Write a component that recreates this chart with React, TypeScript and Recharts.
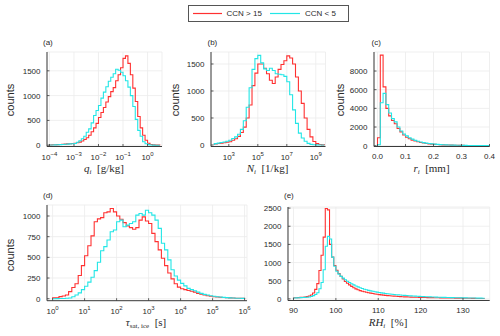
import { CartesianGrid, Line, LineChart, XAxis, YAxis } from "recharts";

const RED = "#ff3030";
const CYAN = "#22e6e6";
const AXIS = "#3a3a3a";
const TXT = "#2a2a2a";
const GRID = "#ebebeb";
const SANS = "Liberation Sans, Arial, sans-serif";
const SERIF = "Liberation Serif, Times New Roman, serif";

// (a) q_i, bins in log10(g/kg)
const qStart = -4;
const qWidth = 0.1;
const qRed = [5, 8, 10, 12, 15, 18, 22, 26, 30, 35, 40, 50, 62, 85, 115, 150, 200, 270, 350, 440, 560, 660, 760, 870, 980, 1080, 1160, 1300, 1420, 1560, 1750, 1800, 1650, 1420, 1150, 880, 580, 350, 200, 100, 40, 15, 6, 2, 1];
const qCyan = [3, 5, 7, 9, 12, 15, 18, 22, 27, 30, 35, 60, 90, 130, 180, 260, 330, 450, 600, 700, 800, 950, 1070, 1180, 1290, 1370, 1440, 1530, 1510, 1470, 1400, 1300, 1170, 1000, 780, 520, 300, 180, 70, 30, 12, 4, 1, 0, 0];

// (b) N_i, bins in log10(1/kg)
const nStart = 2;
const nWidth = 0.2;
const nRed = [20, 28, 35, 42, 50, 60, 88, 115, 160, 230, 330, 500, 740, 1100, 1330, 1500, 1500, 1420, 1320, 1200, 1140, 1260, 1400, 1490, 1560, 1650, 1610, 1500, 1260, 1000, 770, 500, 290, 150, 65, 25, 10, 3];
const nCyan = [25, 35, 45, 55, 70, 88, 120, 150, 200, 290, 450, 700, 1060, 1400, 1600, 1660, 1520, 1410, 1380, 1420, 1380, 1320, 1310, 1300, 1270, 1170, 930, 650, 400, 220, 130, 70, 30, 12, 5, 2, 0, 0];

// (c) r_i, bins in mm
const rStart = 0;
const rWidth = 0.01;
const rRed = [850, 9700, 6300, 4000, 3200, 2700, 2350, 1850, 1480, 1150, 900, 750, 600, 500, 420, 350, 290, 240, 200, 170, 145, 125, 105, 90, 78, 68, 58, 50, 44, 38, 33, 29, 25, 22, 19, 16, 14, 12, 10, 8];
const rCyan = [100, 4600, 5600, 4400, 3500, 2900, 2550, 2000, 1570, 1250, 1050, 850, 700, 570, 470, 390, 330, 275, 230, 195, 165, 140, 120, 102, 88, 76, 65, 56, 49, 43, 37, 32, 28, 24, 21, 18, 16, 14, 12, 10];

// (d) tau_sat,ice, bins in log10(s)
const tStart = 0;
const tWidth = 0.1;
const tRed = [10, 12, 25, 32, 45, 85, 135, 180, 280, 400, 520, 640, 760, 930, 965, 980, 1040, 1050, 1090, 1050, 1000, 960, 920, 880, 860, 840, 860, 950, 990, 940, 910, 790, 690, 590, 490, 400, 310, 240, 180, 140, 120, 110, 100, 90, 80, 65, 55, 45, 36, 30, 24, 20, 17, 15, 12, 10, 8, 6, 5, 4];
const tCyan = [0, 1, 2, 3, 5, 8, 24, 44, 70, 110, 150, 200, 260, 340, 440, 580, 630, 710, 810, 830, 930, 950, 870, 890, 910, 930, 1010, 1030, 1010, 1070, 1040, 1010, 950, 850, 670, 590, 470, 350, 275, 225, 185, 155, 125, 110, 97, 80, 64, 52, 44, 36, 30, 24, 20, 16, 13, 10, 8, 6, 5, 4];

// (e) RH_i, bins in %
const hStart = 90;
const hWidth = 0.5;
const hRed = [30, 32, 35, 40, 45, 52, 62, 78, 105, 160, 260, 420, 780, 1200, 1700, 2490, 2450, 1500, 1150, 920, 790, 700, 620, 550, 480, 430, 385, 345, 305, 275, 250, 228, 210, 195, 182, 170, 158, 146, 136, 126, 117, 109, 102, 96, 90, 84, 79, 75, 71, 66, 63, 60, 56, 54, 51, 49, 46, 45, 43, 41, 39, 38, 36, 35, 34, 33, 31, 30, 29, 28, 27, 26, 25, 24, 23, 22, 21, 21, 20, 19, 18, 17, 16, 15, 14, 13, 12, 11, 10, 9];
const hCyan = [25, 28, 30, 33, 36, 40, 45, 52, 65, 90, 120, 170, 280, 450, 800, 1450, 1720, 1650, 1150, 900, 760, 680, 620, 570, 525, 485, 450, 415, 385, 355, 330, 305, 285, 265, 250, 235, 220, 208, 196, 185, 175, 165, 157, 149, 141, 134, 127, 121, 115, 110, 105, 100, 95, 91, 87, 83, 79, 76, 72, 69, 66, 63, 60, 57, 55, 52, 50, 48, 46, 44, 42, 40, 38, 36, 35, 33, 32, 30, 29, 28, 27, 26, 25, 24, 23, 22, 21, 20, 19, 18];

function histRows(start: number, width: number, red: number[], cyan: number[]) {
  const rows = [{ x: start, red: 0, cyan: 0 }];
  red.forEach((v, i) => rows.push({ x: start + i * width, red: v, cyan: cyan[i] }));
  rows.push({ x: start + red.length * width, red: 0, cyan: 0 });
  return rows;
}

const PAD_L = 44;
const PAD_T = 4;
const PAD_R = 6;
const PAD_B = 24;

function XTick(props: any) {
  const { x, y, payload, kind } = props;
  const v = payload.value;
  let label: any;
  if (kind === "log") {
    label = (
      <text x={x} y={y + 13} textAnchor="middle" fontFamily={SANS} fontSize={8} fill={TXT}>
        10
        <tspan dy={-4} fontSize={6}>{v < 0 ? "\u2212" + -v : v}</tspan>
      </text>
    );
  } else {
    label = (
      <text x={x} y={y + 12.5} textAnchor="middle" fontFamily={SANS} fontSize={8} fill={TXT}>
        {kind === "fixed" ? v.toFixed(1) : v}
      </text>
    );
  }
  return (
    <g>
      <line x1={x} x2={x} y1={y} y2={y - 2.5} stroke={AXIS} strokeWidth={0.8} />
      {label}
    </g>
  );
}

function YTick(props: any) {
  const { x, y, payload } = props;
  return (
    <g>
      <line x1={x} x2={x + 2.5} y1={y} y2={y} stroke={AXIS} strokeWidth={0.8} />
      <text x={x - 6.5} y={y + 3} textAnchor="end" fontFamily={SANS} fontSize={8} fill={TXT}>
        {payload.value}
      </text>
    </g>
  );
}

interface PanelProps {
  rect: [number, number, number, number];
  rows: { x: number; red: number; cyan: number }[];
  xDomain: [number, number];
  xTicks: number[];
  kind: "log" | "fixed" | "plain";
  yDomain: [number, number];
  yTicks: number[];
}

function Panel({ rect, rows, xDomain, xTicks, kind, yDomain, yTicks }: PanelProps) {
  const [l, t, r, b] = rect;
  return (
    <div style={{ position: "absolute", left: l - PAD_L, top: t - PAD_T }}>
      <LineChart
        width={r - l + PAD_L + PAD_R}
        height={b - t + PAD_T + PAD_B}
        data={rows}
        margin={{ top: PAD_T, right: PAD_R, bottom: 0, left: 0 }}
      >
        <CartesianGrid stroke={GRID} strokeWidth={0.8} />
        <XAxis
          type="number"
          dataKey="x"
          domain={xDomain}
          ticks={xTicks}
          interval={0}
          allowDataOverflow
          height={PAD_B}
          tickSize={0}
          tickMargin={0}
          tickLine={false}
          axisLine={{ stroke: AXIS, strokeWidth: 1 }}
          tick={(p: any) => <XTick {...p} kind={kind} />}
        />
        <YAxis
          type="number"
          domain={yDomain}
          ticks={yTicks}
          interval={0}
          allowDataOverflow
          width={PAD_L}
          tickSize={0}
          tickMargin={0}
          tickLine={false}
          axisLine={{ stroke: AXIS, strokeWidth: 1 }}
          tick={(p: any) => <YTick {...p} />}
        />
        <Line type="stepAfter" dataKey="red" stroke={RED} strokeWidth={1.1} dot={false} isAnimationActive={false} />
        <Line type="stepAfter" dataKey="cyan" stroke={CYAN} strokeWidth={1.1} dot={false} isAnimationActive={false} />
      </LineChart>
    </div>
  );
}

function Counts({ x, y }: { x: number; y: number }) {
  return (
    <text
      x={x}
      y={y}
      transform={`rotate(-90, ${x}, ${y})`}
      textAnchor="middle"
      dominantBaseline="central"
      fontFamily={SANS}
      fontSize={11}
      fill={TXT}
    >
      counts
    </text>
  );
}

function Tag({ x, y, s }: { x: number; y: number; s: string }) {
  return (
    <text x={x} y={y} fontFamily={SANS} fontSize={8} fill={TXT}>
      {s}
    </text>
  );
}

export default function App() {
  const nb = "\u00a0";
  return (
    <div style={{ position: "absolute", left: 0, top: 0, width: 500, height: 336, background: "#fff" }}>
      <Panel
        rect={[46.5, 52, 161.5, 146.5]}
        rows={histRows(qStart, qWidth, qRed, qCyan)}
        xDomain={[-4.1, 0.59]}
        xTicks={[-4, -3, -2, -1, 0]}
        kind="log"
        yDomain={[-26, 1879]}
        yTicks={[0, 500, 1000, 1500]}
      />
      <Panel
        rect={[210.5, 52, 325, 146.5]}
        rows={histRows(nStart, nWidth, nRed, nCyan)}
        xDomain={[1.77, 9.67]}
        xTicks={[3, 5, 7, 9]}
        kind="log"
        yDomain={[-28, 1722]}
        yTicks={[0, 500, 1000, 1500]}
      />
      <Panel
        rect={[374, 52, 489.5, 146.5]}
        rows={histRows(rStart, rWidth, rRed, rCyan)}
        xDomain={[-0.0125, 0.4]}
        xTicks={[0, 0.1, 0.2, 0.3, 0.4]}
        kind="fixed"
        yDomain={[-86, 10037]}
        yTicks={[0, 2000, 4000, 6000, 8000]}
      />
      <Panel
        rect={[46.7, 205, 246.7, 300.7]}
        rows={histRows(tStart, tWidth, tRed, tCyan)}
        xDomain={[-0.175, 6.075]}
        xTicks={[0, 1, 2, 3, 4, 5, 6]}
        kind="log"
        yDomain={[-24, 1133]}
        yTicks={[0, 250, 500, 750, 1000]}
      />
      <Panel
        rect={[288.3, 207, 490, 300.5]}
        rows={histRows(hStart, hWidth, hRed, hCyan)}
        xDomain={[88.7, 136.3]}
        xTicks={[90, 100, 110, 120, 130]}
        kind="plain"
        yDomain={[-45, 2530]}
        yTicks={[0, 500, 1000, 1500, 2000, 2500]}
      />
      <svg
        width={500}
        height={336}
        style={{ position: "absolute", left: 0, top: 0, pointerEvents: "none" }}
      >
        <rect x={188.5} y={5.5} width={160} height={16} fill="#fff" stroke="#555" strokeWidth={1} />
        <line x1={193} x2={222} y1={13.5} y2={13.5} stroke={RED} strokeWidth={1.2} />
        <text x={226.5} y={16.3} fontFamily={SANS} fontSize={8} fill={TXT}>CCN &gt; 15</text>
        <line x1={270} x2={300} y1={13.5} y2={13.5} stroke={CYAN} strokeWidth={1.2} />
        <text x={305} y={16.3} fontFamily={SANS} fontSize={8} fill={TXT}>CCN &lt; 5</text>

        <Tag x={43} y={44.5} s="(a)" />
        <Tag x={207.5} y={44.5} s="(b)" />
        <Tag x={371.5} y={44.5} s="(c)" />
        <Tag x={43} y={198} s="(d)" />
        <Tag x={284} y={198} s="(e)" />

        <Counts x={10} y={100} />
        <Counts x={175} y={100} />
        <Counts x={340} y={100} />
        <Counts x={10} y={255} />

        <text x={104} y={172} textAnchor="middle" fontFamily={SERIF} fontSize={11} fill={TXT}>
          <tspan fontStyle="italic">q</tspan>
          <tspan dy={2} fontSize={7} fontStyle="italic">i</tspan>
          <tspan dy={-2}>{nb + nb + "[g/kg]"}</tspan>
        </text>
        <text x={267.5} y={172} textAnchor="middle" fontFamily={SERIF} fontSize={11} fill={TXT}>
          <tspan fontStyle="italic">N</tspan>
          <tspan dy={2} fontSize={7} fontStyle="italic">i</tspan>
          <tspan dy={-2}>{nb + nb + "[1/kg]"}</tspan>
        </text>
        <text x={431.5} y={172} textAnchor="middle" fontFamily={SERIF} fontSize={11} fill={TXT}>
          <tspan fontStyle="italic">r</tspan>
          <tspan dy={2} fontSize={7} fontStyle="italic">i</tspan>
          <tspan dy={-2}>{nb + nb + "[mm]"}</tspan>
        </text>
        <text x={146} y={326} textAnchor="middle" fontFamily={SERIF} fontSize={11} fill={TXT}>
          <tspan fontStyle="italic">τ</tspan>
          <tspan dy={2} fontSize={7}>sat, ice</tspan>
          <tspan dy={-2}>{nb + nb + "[s]"}</tspan>
        </text>
        <text x={388} y={326} textAnchor="middle" fontFamily={SERIF} fontSize={11} fill={TXT}>
          <tspan fontStyle="italic">RH</tspan>
          <tspan dy={2} fontSize={7} fontStyle="italic">i</tspan>
          <tspan dy={-2}>{nb + nb + "[%]"}</tspan>
        </text>
      </svg>
    </div>
  );
}
